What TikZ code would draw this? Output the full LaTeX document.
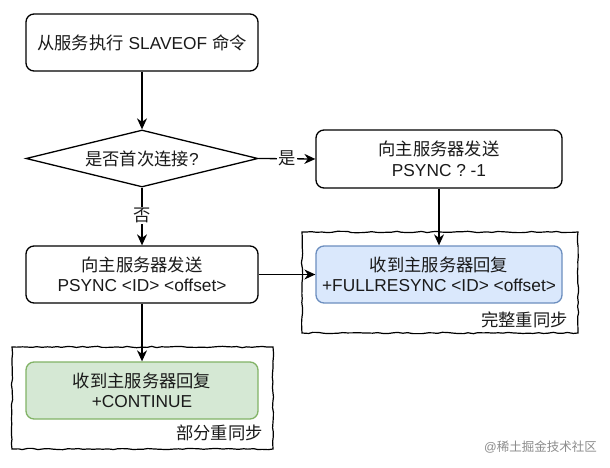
\documentclass[tikz,border=0pt]{standalone}
\usepackage{fontspec}
\setmainfont{Liberation Sans}
\newfontfamily\cjk{Noto Sans CJK SC}
\newcommand\zhs[1]{{\cjk #1}}
\usetikzlibrary{arrows.meta,shapes.geometric,decorations.pathmorphing}
\definecolor{bluefill}{HTML}{DAE8FC}
\definecolor{blueline}{HTML}{6C8EBF}
\definecolor{greenfill}{HTML}{D5E8D4}
\definecolor{greenline}{HTML}{82B366}
\definecolor{txt}{HTML}{1A1A1A}
\tikzset{
  box/.style={draw=black, line width=1.3pt, rounded corners=8pt, inner sep=0pt,
    align=center, font=\fontsize{17.3}{20.5}\selectfont, text=txt},
  bluebox/.style={box, draw=blueline, fill=bluefill},
  greenbox/.style={box, draw=greenline, fill=greenfill},
  sketch/.style={draw=black, line width=1.2pt, decorate,
    decoration={random steps, segment length=5pt, amplitude=0.7pt}},
  conn/.style={draw=black, line width=1.3pt, -{Stealth[length=11pt,width=10pt,inset=3.5pt]}},
  lab/.style={fill=white, inner sep=1pt, font=\fontsize{17.3}{20.5}\selectfont, text=txt},
  grplab/.style={inner sep=0pt, font=\fontsize{17.3}{20.5}\selectfont, text=txt},
}
\begin{document}
\begin{tikzpicture}[x=1pt,y=-1pt]
\useasboundingbox (0,0) rectangle (610,468);
\fill[white] (0,0) rectangle (610,468);
% group frames
\draw[sketch] (302,232) -- (578,232) -- (578,333) -- (302,333) -- cycle;
\draw[sketch] (12,347) -- (273,347) -- (273,449) -- (12,449) -- cycle;
\node[grplab, anchor=east] (fulllab) at (568,320) {\zhs{完整重同步}};
\node[grplab, anchor=east] (partlab) at (263,433) {\zhs{部分重同步}};
% nodes
\node[box, minimum width=232pt, minimum height=57pt] (start) at (142,42.5)
  {\zhs{从服务执行} SLAVEOF \zhs{命令}};
\node[diamond, draw=black, line width=1.3pt, inner sep=0pt, shape aspect=4,
  minimum width=232pt, minimum height=57pt] (dec) at (142,158.5) {};
\node[grplab] (dectext) at (dec.center) {\zhs{是否首次连接}?};
\node[box, minimum width=246pt, minimum height=58pt] (first) at (439,159)
  {\zhs{向主服务器发送}\\PSYNC ? -1};
\node[bluebox, minimum width=246pt, minimum height=57pt] (full) at (439,274.5)
  {\zhs{收到主服务器回复}\\+FULLRESYNC <ID> <offset>};
\node[box, minimum width=232pt, minimum height=57pt] (again) at (142,274.5)
  {\zhs{向主服务器发送}\\PSYNC <ID> <offset>};
\node[greenbox, minimum width=232pt, minimum height=57pt] (cont) at (142,390.5)
  {\zhs{收到主服务器回复}\\+CONTINUE};
% connectors
\draw[conn] (start) -- (dec);
\draw[conn] (dec.east) -- node[lab] (yes) {\zhs{是}} (first.west);
\draw[conn] (dec.south) -- node[lab, pos=0.48] (no) {\zhs{否}} (again.north);
\draw[conn] (first) -- (full);
\draw[conn] (again) -- (full);
\draw[conn] (again) -- (cont);
% watermark
\node[anchor=east, inner sep=0pt, text=black!45, font=\fontsize{12.5}{14}\selectfont] (wm) at (597,447)
  {@\zhs{稀土掘金技术社区}};
\end{tikzpicture}
\end{document}
